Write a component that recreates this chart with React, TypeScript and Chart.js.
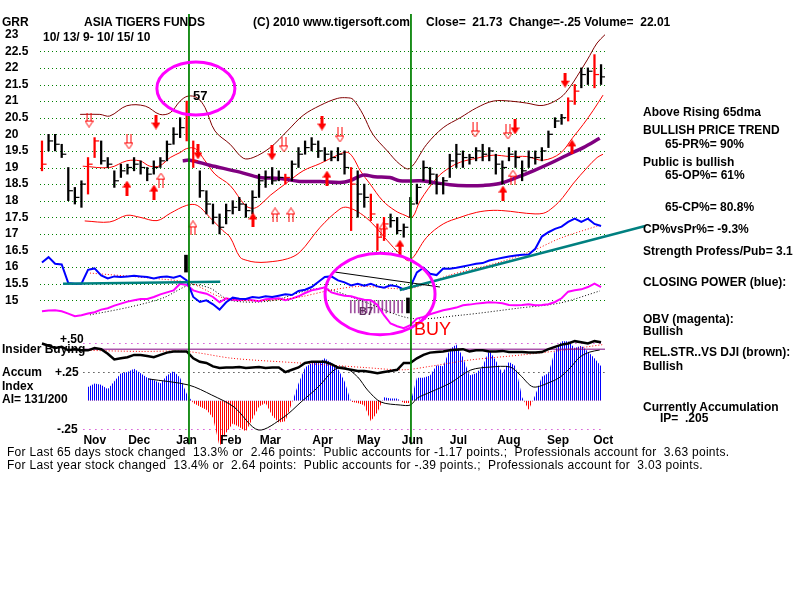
import React, { useEffect, useRef } from "react";
import { Chart, registerables } from "chart.js";

Chart.register(...registerables);

const FONT = '"Liberation Sans", Arial, Helvetica, sans-serif';

// ---------- price bars (about one bar per 3 sessions, 10/13/09 - 10/15/10) ----------
const highs = [
  19.8, 20.0, 20.0, 19.7, 19.0, 18.4, 18.6, 19.3, 19.9, 19.8,
  19.3, 18.9, 19.1, 19.1, 19.3, 19.2, 19.0, 19.2, 19.3, 19.8,
  20.2, 20.5, 21.0, 19.8, 18.9, 18.3, 17.9, 17.6, 17.9, 18.0,
  18.1, 17.9, 18.3, 18.8, 18.9, 19.0, 18.9, 18.8, 19.2, 19.6,
  19.8, 19.9, 19.8, 19.6, 19.5, 19.6, 19.5, 19.0, 18.9, 18.5,
  18.2, 17.3, 17.5, 17.6, 17.5, 17.3, 18.1, 18.5, 19.2, 19.0,
  18.8, 18.7, 19.4, 19.7, 19.5, 19.4, 19.6, 19.7, 19.6, 19.4,
  19.2, 19.6, 19.5, 19.2, 19.5, 19.5, 19.6, 20.1, 20.5, 20.6,
  21.1, 21.5, 22.0, 22.0, 22.4, 22.1,
];
const lows = [
  18.9, 19.5, 19.5, 19.3, 18.0, 17.9, 17.8, 18.2, 19.3, 19.1,
  19.0, 18.4, 18.7, 18.8, 18.9, 18.8, 18.6, 18.8, 19.0, 19.2,
  19.7, 19.9, 19.8, 19.0, 18.1, 17.6, 17.3, 17.0, 17.3, 17.6,
  17.7, 17.5, 17.6, 18.1, 18.4, 18.5, 18.6, 18.5, 18.6, 19.0,
  19.4, 19.5, 19.3, 19.2, 19.2, 19.2, 18.8, 17.1, 17.5, 17.8,
  17.4, 16.5, 16.8, 17.2, 17.0, 16.9, 17.5, 17.9, 18.6, 18.5,
  18.2, 18.2, 18.7, 19.0, 19.0, 19.1, 19.2, 19.2, 19.2, 18.8,
  18.5, 19.2, 19.0, 18.6, 19.0, 19.1, 19.2, 19.6, 20.2, 20.3,
  20.4, 20.9, 21.4, 21.5, 21.4, 21.5,
];
const closes = [
  19.1, 19.8, 19.7, 19.4, 18.3, 18.1, 18.5, 19.1, 19.8, 19.2,
  19.1, 18.6, 18.9, 19.0, 19.1, 19.0, 18.8, 19.0, 19.2, 19.7,
  20.0, 20.2, 20.6, 19.2, 18.3, 17.9, 17.5, 17.2, 17.7, 17.8,
  17.9, 17.7, 18.1, 18.6, 18.7, 18.6, 18.7, 18.7, 19.1, 19.4,
  19.6, 19.7, 19.5, 19.4, 19.3, 19.4, 19.0, 18.5, 18.2, 18.1,
  17.6, 16.9, 17.3, 17.4, 17.1, 17.2, 17.9, 18.4, 19.0, 18.8,
  18.5, 18.6, 19.2, 19.4, 19.3, 19.3, 19.5, 19.4, 19.5, 19.1,
  19.0, 19.4, 19.3, 18.9, 19.3, 19.3, 19.5, 20.0, 20.4, 20.5,
  21.0, 21.3, 21.8, 21.9, 21.8, 21.73,
];
const redBars = [0, 7, 8, 22, 23, 37, 47, 50, 51, 52, 80, 81, 84];

// ---------- Closing Power (blue) and OBV (magenta), in price-panel units ----------
const closingPower = [
  16.14, 16.3, 16.1, 16.08, 15.52, 15.5, 15.5, 15.92, 15.96, 15.75,
  15.66, 15.72, 15.7, 15.72, 15.74, 15.72, 15.7, 15.66, 15.7, 15.72,
  15.68, 15.74, 15.6, 15.1, 14.95, 15.0, 14.88, 14.72, 14.94, 15.08,
  15.05, 15.04, 15.1, 15.08, 15.12, 15.1, 15.14, 15.18, 15.16, 15.28,
  15.32, 15.4, 15.55, 15.7, 15.72, 15.6, 15.54, 15.45, 15.5, 15.44,
  15.5, 15.42, 15.38, 15.45, 15.42, 15.33, 15.4, 15.84, 15.98, 15.8,
  15.76, 15.96, 15.95, 15.98, 16.02, 16.06, 16.1, 16.12, 16.2, 16.24,
  16.28, 16.32, 16.35, 16.37, 16.38, 16.55, 16.92, 17.05, 17.15, 17.22,
  17.36, 17.46, 17.36, 17.46, 17.3, 17.24,
];
const obv = [
  14.67, 14.69, 14.7, 14.67, 14.6, 14.52, 14.55, 14.6, 14.64, 14.72,
  14.76, 14.84, 14.9, 14.96, 15.0, 15.04, 15.04, 15.1, 15.18, 15.24,
  15.3, 15.5, 15.46, 15.3, 15.24, 15.2, 15.1, 14.94, 15.06, 15.02,
  15.0, 15.03, 15.0, 14.97, 15.03, 15.05, 15.06, 15.0, 15.05, 15.12,
  15.22, 15.3, 15.34, 15.39, 15.24, 15.18, 15.14, 15.12, 15.06, 15.02,
  15.0, 14.86, 14.55, 14.3, 14.22, 14.16, 14.25, 14.45, 14.5, 14.58,
  14.64, 14.7, 14.74, 14.78, 14.85, 14.87, 14.9, 14.92, 14.94, 14.93,
  14.91, 14.86, 14.85, 14.86, 14.88, 14.85, 14.86, 14.88, 14.95, 15.06,
  15.26, 15.3, 15.33, 15.4, 15.5, 15.4,
];
const cpMaIdx = [7.3, 16.4, 22.5, 27.1, 30.1, 34.7, 39.2, 43.8, 48.4, 56.0, 62.0, 69.6, 74.7, 78.8, 84.8];
const cpMa = [15.82, 15.67, 15.52, 15.1, 15.0, 15.0, 15.1, 15.3, 15.42, 15.36, 15.76, 16.15, 16.5, 16.87, 17.26];
const obvMaIdx = [7.3, 13.4, 18.4, 22.5, 25.5, 28.6, 34.7, 42.3, 48.4, 56.0, 63.6, 72.7, 78.8, 84.8];
const obvMa = [14.56, 14.8, 15.07, 15.46, 15.37, 15.0, 14.98, 15.36, 15.0, 14.46, 14.55, 14.77, 14.92, 15.28];
const flatTrendIdx = [3.2, 27.1];
const flatTrend = [15.5, 15.56];
const riseTrendIdx = [54.4, 91.7];
const riseTrend = [15.31, 17.24];
const resistIdx = [44.6, 60.5];
const resist = [15.85, 15.4];

// ---------- bands and 65-day MA ----------
const bandUpperIdx = [5.8, 8.8, 10.3, 12.9, 15.7, 17.9, 19.5, 21.0, 22.2, 23.6, 24.8, 26.3, 28.6, 30.6, 32.1, 34.7, 37.3, 39.7, 42.3, 44.9, 46.4, 47.3, 48.8, 50.3, 52.5, 54.4, 55.9, 58.5, 61.0, 63.6, 66.1, 68.6, 71.2, 73.7, 76.2, 78.8, 80.3, 81.3, 82.9, 84.4, 85.6];
const bandUpper = [20.6, 20.6, 20.55, 20.86, 20.85, 20.6, 20.65, 21.0, 21.15, 21.1, 20.8, 20.1, 19.7, 19.28, 19.3, 19.6, 20.1, 20.57, 20.87, 21.08, 21.1, 21.05, 20.6, 20.0, 19.5, 19.1, 18.97, 19.7, 20.2, 20.5, 20.8, 21.0, 21.0, 20.94, 20.87, 21.1, 21.43, 21.73, 22.24, 22.75, 23.0];
const bandMidIdx = [6.2, 10.3, 12.9, 14.9, 16.4, 17.9, 19.5, 21.0, 22.0, 23.3, 24.8, 26.3, 28.6, 30.9, 32.1, 33.1, 34.7, 37.3, 39.7, 42.3, 44.9, 46.4, 47.3, 48.4, 49.9, 51.8, 53.7, 55.2, 56.3, 57.5, 60.1, 62.0, 63.6, 66.1, 68.6, 71.2, 73.7, 76.2, 78.8, 80.7, 82.3, 83.8, 85.3];
const bandMid = [19.04, 19.0, 19.2, 19.2, 19.04, 19.05, 19.3, 19.45, 19.57, 19.57, 19.2, 18.8, 18.46, 17.86, 17.77, 17.86, 18.16, 18.55, 18.9, 19.12, 19.37, 19.46, 19.3, 18.9, 18.5, 18.0, 17.7, 17.56, 17.5, 18.0, 18.7, 19.0, 19.16, 19.28, 19.37, 19.33, 19.33, 19.22, 19.43, 19.9, 20.3, 20.72, 21.18];
const bandLowerIdx = [6.5, 10.3, 12.9, 14.9, 17.5, 19.5, 22.0, 23.6, 25.5, 27.5, 28.6, 30.1, 31.2, 32.4, 34.2, 37.3, 39.2, 42.3, 45.3, 46.4, 48.4, 50.3, 52.5, 54.4, 55.9, 58.5, 61.0, 63.6, 66.1, 68.6, 71.2, 73.7, 76.2, 77.7, 79.2, 80.7, 82.9, 84.4, 85.3];
const bandLower = [17.39, 17.36, 17.56, 17.5, 17.4, 17.62, 17.86, 17.86, 17.5, 17.1, 16.9, 16.3, 16.2, 16.15, 16.15, 16.25, 16.45, 17.2, 17.75, 17.8, 17.62, 17.3, 16.8, 16.4, 16.2, 16.9, 17.3, 17.5, 17.65, 17.71, 17.68, 17.62, 17.62, 17.8, 18.1, 18.5, 19.0, 19.3, 19.4];
const ma65Idx = [21.4, 22.5, 25.5, 30.1, 33.1, 36.2, 39.2, 42.3, 45.3, 46.8, 48.8, 50.6, 52.9, 54.4, 57.5, 59.5, 62.0, 64.6, 67.1, 69.6, 72.2, 74.7, 77.2, 79.8, 82.3, 84.8];
const ma65 = [19.2, 19.22, 19.07, 18.86, 18.7, 18.67, 18.58, 18.58, 18.55, 18.6, 18.77, 18.72, 18.7, 18.6, 18.6, 18.55, 18.48, 18.45, 18.46, 18.52, 18.7, 18.9, 19.12, 19.37, 19.6, 19.88];

// ---------- signals ----------
const sellIdx = [17.33, 23.72, 34.97, 42.57, 71.92, 79.52];
const sellPx = [20.37, 19.47, 19.44, 20.34, 20.22, 21.63];
const sellHollowIdx = [7.15, 13.23, 36.79, 45.31, 65.84, 70.85];
const sellHollowPx = [20.43, 19.77, 19.68, 19.98, 20.13, 20.07];
const buyIdx = [12.92, 17.03, 32.08, 43.33, 54.43, 70.09, 80.58];
const buyPx = [18.38, 18.26, 17.42, 18.68, 16.6, 18.23, 19.62];
const buyHollowIdx = [18.09, 22.96, 35.43, 37.86, 51.85, 71.61];
const buyHollowPx = [18.62, 17.18, 17.57, 17.57, 17.12, 18.71];
const signalIdx = [22.35, 56.1];
const signalLow = [15.85, 14.62];
const signalHigh = [16.36, 15.07];
const b7Idx = [46.8, 47.4, 48.0, 48.6, 49.2, 49.8, 50.4, 51.0, 51.6, 52.2, 52.8, 53.4, 54.0, 54.6];
const b7Low = 14.62;
const b7High = 15.0;
const circleIdx = [23.4, 51.4];
const circlePx = [21.38, 15.19];
const circleRx = [5.93, 8.36];
const circleRy = [0.8, 1.23];

// ---------- lower panel: accumulation index, rel. strength ----------
const accumIndex: (number | null)[] = [
  null, null, null, null, null, null, null, 0.12, 0.15, 0.14,
  0.1, 0.17, 0.24, 0.25, 0.28, 0.24, 0.2, 0.18, 0.15, 0.22,
  0.26, 0.2, 0.06, -0.02, -0.05, -0.08, -0.15, -0.4, -0.28, -0.2,
  -0.23, -0.27, -0.16, -0.05, -0.02, -0.13, -0.19, -0.18, -0.02, 0.15,
  0.29, 0.33, 0.33, 0.37, 0.33, 0.28, 0.17, -0.01, -0.02, -0.04,
  -0.18, -0.1, 0.03, 0.02, 0.02, -0.02, -0.02, 0.2, 0.2, 0.22,
  0.31, 0.3, 0.45, 0.49, 0.38, 0.22, 0.24, 0.3, 0.44, 0.35,
  0.24, 0.34, 0.3, 0.03, -0.08, 0.05, 0.21, 0.24, 0.44, 0.52,
  0.52, 0.46, 0.48, 0.43, 0.37, 0.3,
];
const relStrength = [
  0.5, 0.48, 0.46, 0.47, 0.44, 0.45, 0.44, 0.44, 0.46, 0.45,
  0.41, 0.36, 0.37, 0.38, 0.4, 0.4, 0.39, 0.38, 0.4, 0.42,
  0.43, 0.43, 0.43, 0.37, 0.34, 0.33, 0.3, 0.285, 0.29, 0.29,
  0.295, 0.285, 0.29, 0.295, 0.285, 0.29, 0.29, 0.25, 0.27, 0.29,
  0.33, 0.34, 0.34, 0.34, 0.32, 0.29, 0.28, 0.27, 0.26, 0.26,
  0.25, 0.24, 0.25, 0.26, 0.27, 0.33, 0.33, 0.37, 0.4, 0.42,
  0.425, 0.43, 0.44, 0.445, 0.45, 0.43, 0.44, 0.44, 0.43, 0.43,
  0.435, 0.425, 0.425, 0.425, 0.42, 0.42, 0.425, 0.45, 0.47, 0.49,
  0.5, 0.52, 0.51, 0.5, 0.52, 0.51,
];
const aiMaIdx = [16.2, 22.3, 25.8, 29.2, 32.9, 36.8, 39.4, 42.0, 44.4, 45.9, 48.0, 49.5, 51.5, 54.5, 56.0, 57.1, 59.1, 62.1, 65.2, 68.2, 71.2, 72.7, 74.7, 77.3, 78.8, 80.3, 81.8, 83.3, 84.8];
const aiMa = [0.19, 0.137, 0.05, -0.055, -0.256, -0.142, -0.011, 0.12, 0.268, 0.294, 0.207, 0.093, -0.011, -0.038, -0.038, 0.024, 0.076, 0.155, 0.268, 0.294, 0.294, 0.224, 0.12, 0.163, 0.207, 0.286, 0.382, 0.425, 0.443];
const rsMaIdx = [6.5, 15, 22, 29, 39, 49, 55, 59, 65, 73, 79, 85.3];
const rsMa = [0.44, 0.43, 0.43, 0.37, 0.33, 0.29, 0.27, 0.3, 0.355, 0.4, 0.44, 0.49];
const insiderSpanIdx = [6.3, 85.6];
const insiderLevel = 0.45;

// ---------- ticks ----------
const priceTicks = [23, 22.5, 22, 21.5, 21, 20.5, 20, 19.5, 19, 18.5, 18, 17.5, 17, 16.5, 16, 15.5, 15];
const priceTickLabels = ["23", "22.5", "22", "21.5", "21", "20.5", "20", "19.5", "19", "18.5", "18", "17.5", "17", "16.5", "16", "15.5", "15"];
const priceGrid = [22.5, 22, 21.5, 21, 20.5, 20, 19.5, 19, 18.5, 18, 17.5, 17, 16.5, 16, 15.5, 15];
const aiGrid = [0.5, 0.25, -0.25];
const months = ["Nov", "Dec", "Jan", "Feb", "Mar", "Apr", "May", "Jun", "Jul", "Aug", "Sep", "Oct"];
const monthIdx = [6.3, 13.1, 20.4, 27.1, 33.1, 41.1, 47.9, 54.7, 62.0, 69.2, 76.8, 83.8];

const xy = (xs: number[], ys: number[]) => xs.map((x, k) => ({ x, y: ys[k] }));

function arrowImage(up: boolean, hollow: boolean): HTMLCanvasElement {
  const c = document.createElement("canvas");
  c.width = 9;
  c.height = 15;
  const g = c.getContext("2d")!;
  if (up) {
    g.translate(0, 15);
    g.scale(1, -1);
  }
  g.fillStyle = "#ff0000";
  g.strokeStyle = "#ff0000";
  if (!hollow) {
    g.fillRect(3, 0, 3, 9);
    g.beginPath();
    g.moveTo(0, 8);
    g.lineTo(9, 8);
    g.lineTo(4.5, 15);
    g.closePath();
    g.fill();
  } else {
    g.fillRect(2, 0, 1, 9);
    g.fillRect(6, 0, 1, 9);
    g.lineWidth = 1;
    g.beginPath();
    g.moveTo(0.5, 8.5);
    g.lineTo(8.5, 8.5);
    g.lineTo(4.5, 14.5);
    g.closePath();
    g.stroke();
  }
  return c;
}

function hatchPattern(ctx: CanvasRenderingContext2D, color: string) {
  const c = document.createElement("canvas");
  c.width = 2;
  c.height = 1;
  const g = c.getContext("2d")!;
  g.fillStyle = color;
  g.fillRect(0, 0, 1, 1);
  return ctx.createPattern(c, "repeat")!;
}

const decor = {
  id: "tigerDecor",
  beforeDatasetsDraw(chart: any) {
    const { ctx, chartArea: a, scales } = chart;
    const xs = scales.x;
    const ys = scales.y;
    const ai = scales.yAI;
    ctx.save();
    ctx.lineWidth = 1;
    ctx.setLineDash([1, 3]);
    ctx.strokeStyle = "#008000";
    priceGrid.forEach((v) => {
      const py = Math.round(ys.getPixelForValue(v)) + 0.5;
      ctx.beginPath();
      ctx.moveTo(a.left, py);
      ctx.lineTo(a.right, py);
      ctx.stroke();
    });
    const x0 = xs.getPixelForValue(insiderSpanIdx[0]);
    aiGrid.forEach((v) => {
      const py = Math.round(ai.getPixelForValue(v)) + 0.5;
      ctx.strokeStyle = v === 0.25 ? "#000000" : "#c000c0";
      ctx.setLineDash(v === 0.25 ? [1, 4] : [1, 5]);
      ctx.beginPath();
      ctx.moveTo(x0, py);
      ctx.lineTo(a.right, py);
      ctx.stroke();
    });
    ctx.restore();
  },
  afterDatasetsDraw(chart: any) {
    const { ctx, scales } = chart;
    const xs = scales.x;
    const ys = scales.y;
    ctx.save();
    ctx.strokeStyle = "#ff00ff";
    ctx.lineWidth = 3;
    circleIdx.forEach((ci, k) => {
      const cx = xs.getPixelForValue(ci);
      const cy = ys.getPixelForValue(circlePx[k]);
      const rx = Math.abs(xs.getPixelForValue(ci + circleRx[k]) - cx);
      const ry = Math.abs(ys.getPixelForValue(circlePx[k] + circleRy[k]) - cy);
      ctx.beginPath();
      ctx.ellipse(cx, cy, rx, ry, 0, 0, Math.PI * 2);
      ctx.stroke();
    });
    ctx.restore();
  },
  afterDraw(chart: any) {
    const { ctx, scales } = chart;
    const xs = scales.x;
    const ys = scales.y;
    const ai = scales.yAI;
    ctx.save();
    ctx.fillStyle = "#000000";
    ctx.font = `bold 12px ${FONT}`;
    ctx.textAlign = "left";
    ctx.textBaseline = "middle";
    priceTicks.forEach((v, k) => {
      ctx.fillText(priceTickLabels[k], 5, ys.getPixelForValue(v));
    });
    ctx.textBaseline = "top";
    const my = ai.getPixelForValue(-0.25) + 5;
    months.forEach((m, k) => {
      ctx.fillText(m, xs.getPixelForValue(monthIdx[k]), my);
    });
    ctx.restore();
  },
};

const T = ({ x, y, size = 12, bold = true, color = "#000", spacing = 0, children }: any) => (
  <div
    style={{
      position: "absolute",
      left: x,
      top: y,
      fontFamily: FONT,
      fontSize: size,
      fontWeight: bold ? 700 : 400,
      color,
      whiteSpace: "pre",
      letterSpacing: spacing,
      lineHeight: `${size + 2}px`,
    }}
  >
    {children}
  </div>
);

export default function App() {
  const ref = useRef<HTMLCanvasElement>(null);

  useEffect(() => {
    const canvas = ref.current!;
    const ctx = canvas.getContext("2d")!;
    const bluePat = hatchPattern(ctx, "#0000ff");
    const redPat = hatchPattern(ctx, "#ff0000");
    const barColors = highs.map((_, i) => (redBars.includes(i) ? "#ff0000" : "#000000"));
    const sellImg = arrowImage(false, false);
    const sellHollowImg = arrowImage(false, true);
    const buyImg = arrowImage(true, false);
    const buyHollowImg = arrowImage(true, true);

    const line = (data: any[], color: string, width: number, order: number, axis = "y", extra: any = {}) => ({
      type: "line" as const,
      data,
      borderColor: color,
      borderWidth: width,
      pointRadius: 0,
      fill: false,
      order,
      yAxisID: axis,
      ...extra,
    });
    const arrows = (xs: number[], ys: number[], img: HTMLCanvasElement) => ({
      type: "scatter" as const,
      data: xy(xs, ys),
      pointStyle: img,
      pointRadius: 6,
      order: 12,
      yAxisID: "y",
    });

    const datasets: any[] = [
      // lower panel
      line(
        accumIndex.map((v, i) => ({ x: i, y: v })).filter((p) => p.y !== null),
        "rgba(0,0,0,0)",
        0,
        60,
        "yAI",
        { fill: { target: "origin", above: bluePat, below: redPat } }
      ),
      line(xy(aiMaIdx, aiMa), "#000000", 1, 55, "yAI", { tension: 0.3 }),
      line(xy(rsMaIdx, rsMa), "#ff0000", 1, 54, "yAI", { borderDash: [1, 2], tension: 0.3 }),
      line(insiderSpanIdx.map((x) => ({ x, y: insiderLevel })), "#800080", 1, 53, "yAI"),
      line(relStrength.map((v, i) => ({ x: i, y: v })), "#000000", 2.5, 52, "yAI"),
      // bands
      line(xy(bandUpperIdx, bandUpper), "#800000", 1, 45, "y", { tension: 0.35 }),
      line(xy(bandMidIdx, bandMid), "#ff0000", 1, 44, "y", { tension: 0.35 }),
      line(xy(bandLowerIdx, bandLower), "#ff0000", 1, 43, "y", { tension: 0.35 }),
      line(xy(ma65Idx, ma65), "#800080", 3.5, 42, "y", { tension: 0.35 }),
      // B7 hatch
      {
        type: "bar",
        data: b7Idx.map((x) => ({ x, y: [b7Low, b7High] })),
        backgroundColor: "#a050a0",
        barThickness: 1,
        order: 41,
        yAxisID: "y",
      },
      // price bars
      {
        type: "bar",
        data: highs.map((h, i) => ({ x: i, y: [lows[i], h] })),
        backgroundColor: barColors,
        barThickness: 1.6,
        borderWidth: 0,
        order: 40,
        yAxisID: "y",
      },
      {
        type: "scatter",
        data: closes.map((c, i) => ({ x: i + 0.35, y: c })),
        pointStyle: "line",
        pointRadius: 2.3,
        pointBorderWidth: 1.2,
        pointBorderColor: barColors,
        order: 39,
        yAxisID: "y",
      },
      // closing power and OBV
      line(xy(obvMaIdx, obvMa), "#000000", 1, 31, "y", { borderDash: [1, 2], tension: 0.3 }),
      line(obv.map((v, i) => ({ x: i, y: v })), "#ff00ff", 2, 30, "y"),
      line(xy(cpMaIdx, cpMa), "#ff0000", 1, 29, "y", { borderDash: [1, 2], tension: 0.3 }),
      line(closingPower.map((v, i) => ({ x: i, y: v })), "#0000ff", 2, 28, "y"),
      line(xy(flatTrendIdx, flatTrend), "#008080", 2.5, 25, "y"),
      line(xy(riseTrendIdx, riseTrend), "#008080", 2.5, 25, "y", { clip: false }),
      line(xy(resistIdx, resist), "#000000", 1, 24, "y"),
      // signal markers
      {
        type: "bar",
        data: signalIdx.map((x, k) => ({ x, y: [signalLow[k], signalHigh[k]] })),
        backgroundColor: "#000000",
        barThickness: 3,
        order: 20,
        yAxisID: "y",
      },
      arrows(sellIdx, sellPx, sellImg),
      arrows(sellHollowIdx, sellHollowPx, sellHollowImg),
      arrows(buyIdx, buyPx, buyImg),
      arrows(buyHollowIdx, buyHollowPx, buyHollowImg),
      // vertical signal lines
      ...signalIdx.map((x) =>
        line([{ x, y: 3.38 }, { x, y: -0.38 }], "#008000", 1, 10, "yAI")
      ),
    ];

    const chart = new Chart(canvas, {
      type: "line",
      data: { datasets },
      options: {
        responsive: false,
        animation: false,
        events: [],
        layout: { padding: { left: 40, right: 195, top: 14, bottom: 150 } },
        plugins: { legend: { display: false }, tooltip: { enabled: false }, title: { display: false } },
        scales: {
          x: { type: "linear", min: -0.3, max: 85.6, offset: false, display: false, grid: { offset: false } },
          y: { type: "linear", min: 10.491, max: 23.6235, display: false },
          yAI: { type: "linear", position: "right", min: -0.4306, max: 3.3773, display: false },
        },
      } as any,
      plugins: [decor],
    });
    return () => chart.destroy();
  }, []);

  return (
    <div style={{ position: "fixed", left: 0, top: 0, width: 800, height: 600, background: "#ffffff", overflow: "hidden" }}>
      <canvas ref={ref} width={800} height={600} style={{ position: "absolute", left: 0, top: 0, width: 800, height: 600 }} />
      <T x={2} y={15}>GRR</T>
      <T x={84} y={15}>ASIA TIGERS FUNDS</T>
      <T x={253} y={15}>(C) 2010 www.tigersoft.com</T>
      <T x={426} y={15}>{"Close=  21.73  Change=-.25 Volume=  22.01"}</T>
      <T x={43} y={30}>{"10/ 13/ 9- 10/ 15/ 10"}</T>
      <T x={193} y={88} size={13}>57</T>
      <T x={643} y={105}>Above Rising 65dma</T>
      <T x={643} y={123}>BULLISH PRICE TREND</T>
      <T x={665} y={137}>65-PR%= 90%</T>
      <T x={643} y={155}>Public is bullish</T>
      <T x={665} y={168}>65-OP%= 61%</T>
      <T x={665} y={200}>65-CP%= 80.8%</T>
      <T x={643} y={222}>CP%vsPr%= -9.3%</T>
      <T x={643} y={244}>Strength Profess/Pub= 3.1</T>
      <T x={643} y={275}>CLOSING POWER (blue):</T>
      <T x={643} y={312}>OBV (magenta):</T>
      <T x={643} y={324}>Bullish</T>
      <T x={643} y={345}>REL.STR..VS DJI (brown):</T>
      <T x={643} y={359}>Bullish</T>
      <T x={643} y={400}>Currently Accumulation</T>
      <T x={660} y={411}>{"IP=  .205"}</T>
      <T x={60} y={332}>+.50</T>
      <T x={2} y={342}>Insider Buying</T>
      <T x={2} y={365}>Accum</T>
      <T x={55} y={365}>+.25</T>
      <T x={2} y={379}>Index</T>
      <T x={2} y={392}>AI= 131/200</T>
      <T x={57} y={422}>-.25</T>
      <T x={414} y={319} size={18} bold={false} color="#ff0000">BUY</T>
      <T x={359} y={305} size={11} color="#603060">B7</T>
      <T x={7} y={445} bold={false} spacing={0.29}>
        {"For Last 65 days stock changed  13.3% or  2.46 points:  Public accounts for -1.17 points.;  Professionals account for  3.63 points."}
      </T>
      <T x={7} y={458} bold={false} spacing={0.29}>
        {"For Last year stock changed  13.4% or  2.64 points:  Public accounts for -.39 points.;  Professionals account for  3.03 points."}
      </T>
    </div>
  );
}
